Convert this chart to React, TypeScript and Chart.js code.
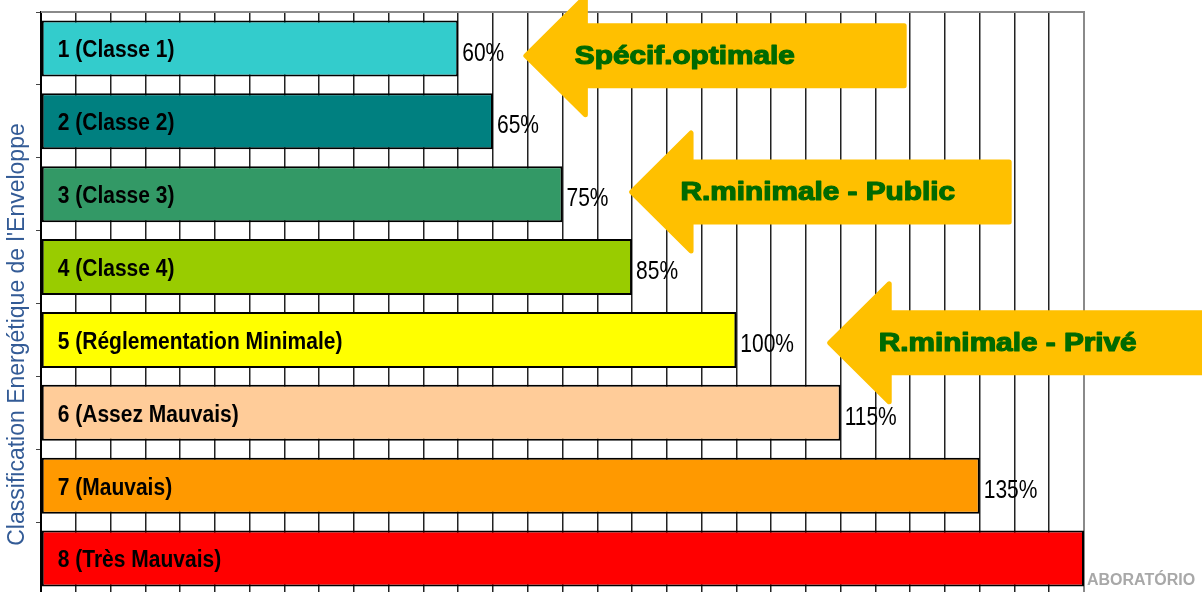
import React, { useEffect, useRef } from "react";
import { Chart, registerables } from "chart.js";

Chart.register(...registerables);

// ---- data ----
const categories = [
  "1 (Classe 1)",
  "2 (Classe 2)",
  "3 (Classe 3)",
  "4 (Classe 4)",
  "5 (Réglementation Minimale)",
  "6 (Assez Mauvais)",
  "7 (Mauvais)",
  "8 (Très Mauvais)",
];
const values = [60, 65, 75, 85, 100, 115, 135, 150];
const barColors = ["#33CCCC", "#008080", "#339966", "#99CC00", "#FFFF00", "#FFCC99", "#FF9900", "#FF0000"];
const axisTitle = "Classification Energétique de l'Enveloppe";
const xMin = 0;
const xMax = 150;
const xStep = 5;
const arrowLabels = ["Spécif.optimale", "R.minimale - Public", "R.minimale - Privé"];
const arrowRows = [0.1, 1.97, 4.04];
const arrowTips = [69.3, 84.5, 113];
const arrowEnds = [124.5, 139.6, 175];
const watermark = "ABORATÓRIO";

const FONT = "'Liberation Sans', Arial, sans-serif";

function drawText(
  ctx: CanvasRenderingContext2D,
  text: string,
  x: number,
  y: number,
  font: string,
  color: string,
  sx: number,
  sy: number,
  strokeW = 0
) {
  ctx.save();
  ctx.translate(x, y);
  ctx.scale(sx, sy);
  ctx.font = font;
  ctx.fillStyle = color;
  ctx.textAlign = "left";
  ctx.textBaseline = "middle";
  ctx.fillText(text, 0, 0);
  if (strokeW > 0) {
    ctx.strokeStyle = color;
    ctx.lineWidth = strokeW;
    ctx.lineJoin = "round";
    ctx.strokeText(text, 0, 0);
  }
  ctx.restore();
}

const overlay = {
  id: "overlay",
  beforeDatasetsDraw(chart: any) {
    const { ctx, chartArea: a } = chart;
    ctx.save();
    ctx.strokeStyle = "#8a8a8a";
    ctx.lineWidth = 2;
    ctx.beginPath();
    ctx.moveTo(a.left, a.top);
    ctx.lineTo(a.right, a.top);
    ctx.lineTo(a.right, a.bottom);
    ctx.stroke();
    ctx.restore();
  },
  afterDatasetsDraw(chart: any) {
    const { ctx, chartArea: a } = chart;
    const meta = chart.getDatasetMeta(0);
    const xs = chart.scales.x;
    const ys = chart.scales.y;
    meta.data.forEach((bar: any, i: number) => {
      const { x, y, base } = bar.getProps(["x", "y", "base"], true);
      drawText(ctx, categories[i], base + 16, y + 2, `bold 21px ${FONT}`, "#000", 1, 1.18);
      if (x < a.right - 5) {
        drawText(ctx, `${values[i]}%`, x + 4, y + 5, `21px ${FONT}`, "#000", 1, 1.22);
      }
    });
    arrowLabels.forEach((lab, k) => {
      const tx = xs.getPixelForValue(arrowTips[k]);
      const ty = ys.getPixelForValue(arrowRows[k]);
      const ex = xs.getPixelForValue(arrowEnds[k]);
      const hb = tx + 65;
      const hh = 59;
      const sh = 30;
      ctx.save();
      ctx.beginPath();
      ctx.moveTo(tx + 3, ty);
      ctx.lineTo(hb - 2.5, ty - hh);
      ctx.lineTo(hb - 2.5, ty - sh);
      ctx.lineTo(ex - 2.5, ty - sh);
      ctx.lineTo(ex - 2.5, ty + sh);
      ctx.lineTo(hb - 2.5, ty + sh);
      ctx.lineTo(hb - 2.5, ty + hh);
      ctx.closePath();
      ctx.fillStyle = "#FFC000";
      ctx.strokeStyle = "#FFC000";
      ctx.lineWidth = 5;
      ctx.lineJoin = "round";
      ctx.fill();
      ctx.stroke();
      ctx.restore();
      drawText(ctx, lab, hb - 13, ty + 1, `bold 25px ${FONT}`, "#006a00", 1.19, 1, 1.2);
    });
  },
  afterDraw(chart: any) {
    const { ctx, chartArea: a } = chart;
    ctx.save();
    ctx.translate(18, (a.top + a.bottom) / 2 + 31);
    ctx.rotate(-Math.PI / 2);
    ctx.font = `23px ${FONT}`;
    ctx.fillStyle = "#335B96";
    ctx.textAlign = "center";
    ctx.textBaseline = "middle";
    ctx.fillText(axisTitle, 0, 0);
    ctx.restore();
    drawText(ctx, watermark, a.right + 3, a.bottom - 14, `bold 16px ${FONT}`, "#a8a8a8", 1, 1);
  },
};

export default function App() {
  const ref = useRef<HTMLCanvasElement>(null);
  useEffect(() => {
    if (!ref.current) return;
    const chart = new Chart(ref.current, {
      type: "bar",
      data: {
        labels: categories,
        datasets: [
          {
            data: values,
            backgroundColor: barColors,
            borderColor: "#000",
            borderWidth: 2,
            borderSkipped: false,
            barPercentage: 0.768,
            categoryPercentage: 1,
          },
        ],
      },
      options: {
        indexAxis: "y",
        animation: false,
        responsive: false,
        layout: { padding: { top: 12, right: 118, bottom: 0, left: 0 } },
        plugins: { legend: { display: false }, tooltip: { enabled: false } },
        scales: {
          x: {
            min: xMin,
            max: xMax,
            ticks: { display: false, stepSize: xStep },
            grid: { color: "#222", lineWidth: 1.5, drawTicks: false },
            border: { display: false },
            afterFit: (s: any) => {
              s.height = 5;
            },
          },
          y: {
            ticks: { display: false },
            grid: { drawOnChartArea: false, drawTicks: true, tickLength: 5, color: "#444" },
            border: { display: true, color: "#000", width: 2 },
            afterFit: (s: any) => {
              s.width = 41;
            },
          },
        },
      },
      plugins: [overlay],
    } as any);
    return () => chart.destroy();
  }, []);
  return (
    <div style={{ position: "fixed", left: 0, top: 0, width: 1202, height: 592, overflow: "hidden", background: "#fff" }}>
      <canvas ref={ref} width={1202} height={600} style={{ width: 1202, height: 600, display: "block" }} />
    </div>
  );
}
